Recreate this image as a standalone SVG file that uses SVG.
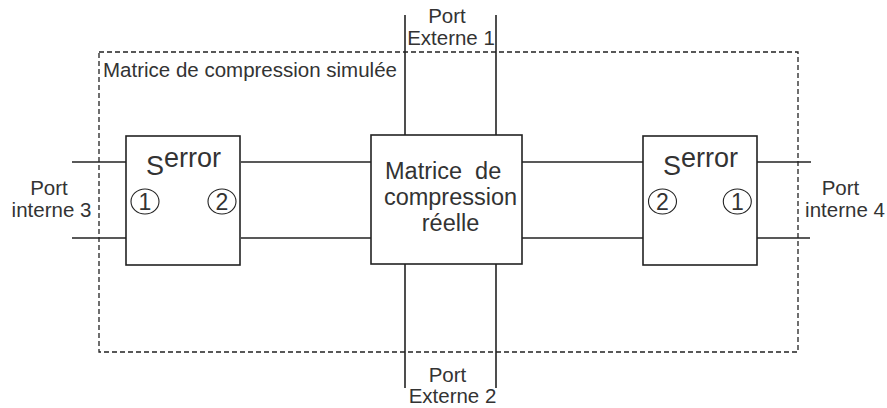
<svg xmlns="http://www.w3.org/2000/svg" width="887" height="408" viewBox="0 0 887 408">
<style>
.ln{stroke:#222;stroke-width:1.6;fill:none}
.bx{stroke:#222;stroke-width:1.6;fill:#fff}
.ds{stroke:#222;stroke-width:1.3;fill:none;stroke-dasharray:5 3}
text{font-family:"Liberation Sans",Arial,sans-serif;fill:#333}
.lb{font-size:20.5px;text-anchor:middle}
.cn{font-size:23.5px;white-space:pre}
.se{font-size:27px}
.ci{stroke:#222;stroke-width:1.1;fill:none}
.nu{font-size:23px;text-anchor:middle}
</style>
<g id="simulated-matrix">
<rect class="ds" x="99" y="52" width="699" height="300"/>
<text x="103" y="77" style="font-size:20.5px">Matrice de compression simulée</text>
</g>
<g id="connectors">
<line class="ln" x1="72" y1="162" x2="126" y2="162"/>
<line class="ln" x1="72" y1="238" x2="126" y2="238"/>
<line class="ln" x1="241" y1="162" x2="371" y2="162"/>
<line class="ln" x1="241" y1="238" x2="371" y2="238"/>
<line class="ln" x1="522" y1="162" x2="643" y2="162"/>
<line class="ln" x1="522" y1="238" x2="643" y2="238"/>
<line class="ln" x1="757" y1="162" x2="811" y2="162"/>
<line class="ln" x1="757" y1="238" x2="810" y2="238"/>
<line class="ln" x1="405" y1="15" x2="405" y2="135"/>
<line class="ln" x1="496" y1="15" x2="496" y2="135"/>
<line class="ln" x1="405" y1="264" x2="405" y2="388"/>
<line class="ln" x1="496" y1="264" x2="496" y2="388"/>
</g>
<g id="serror-left">
<rect class="bx" x="126" y="136" width="114" height="129"/>
<text class="se" x="146" y="175">S<tspan dy="-8">error</tspan></text>
<ellipse class="ci" cx="145" cy="201.5" rx="14" ry="12.5"/>
<text class="nu" x="145" y="209.5">1</text>
<ellipse class="ci" cx="222" cy="201.5" rx="14" ry="12.5"/>
<text class="nu" x="222" y="209.5">2</text>
</g>
<g id="real-matrix">
<rect class="bx" x="371" y="135" width="151" height="129"/>
<text class="cn" x="385" y="179">Matrice  de</text>
<text class="cn" x="450.5" y="205" text-anchor="middle">compression</text>
<text class="cn" x="450.5" y="231" text-anchor="middle">réelle</text>
</g>
<g id="serror-right">
<rect class="bx" x="643" y="136" width="114" height="129"/>
<text class="se" x="663" y="175">S<tspan dy="-8">error</tspan></text>
<ellipse class="ci" cx="662.5" cy="201.5" rx="14" ry="12.5"/>
<text class="nu" x="662.5" y="209.5">2</text>
<ellipse class="ci" cx="737.3" cy="201.5" rx="14" ry="12.5"/>
<text class="nu" x="737.3" y="209.5">1</text>
</g>
<g id="port-externe-1">
<text class="lb" x="447" y="23">Port</text>
<text class="lb" x="451" y="45">Externe 1</text>
</g>
<g id="port-externe-2">
<text class="lb" x="447.5" y="382">Port</text>
<text class="lb" x="452.5" y="403">Externe 2</text>
</g>
<g id="port-interne-3">
<text class="lb" x="49" y="195">Port</text>
<text class="lb" x="51.5" y="217">interne 3</text>
</g>
<g id="port-interne-4">
<text class="lb" x="840.5" y="195">Port</text>
<text class="lb" x="845" y="217">interne 4</text>
</g>
</svg>
